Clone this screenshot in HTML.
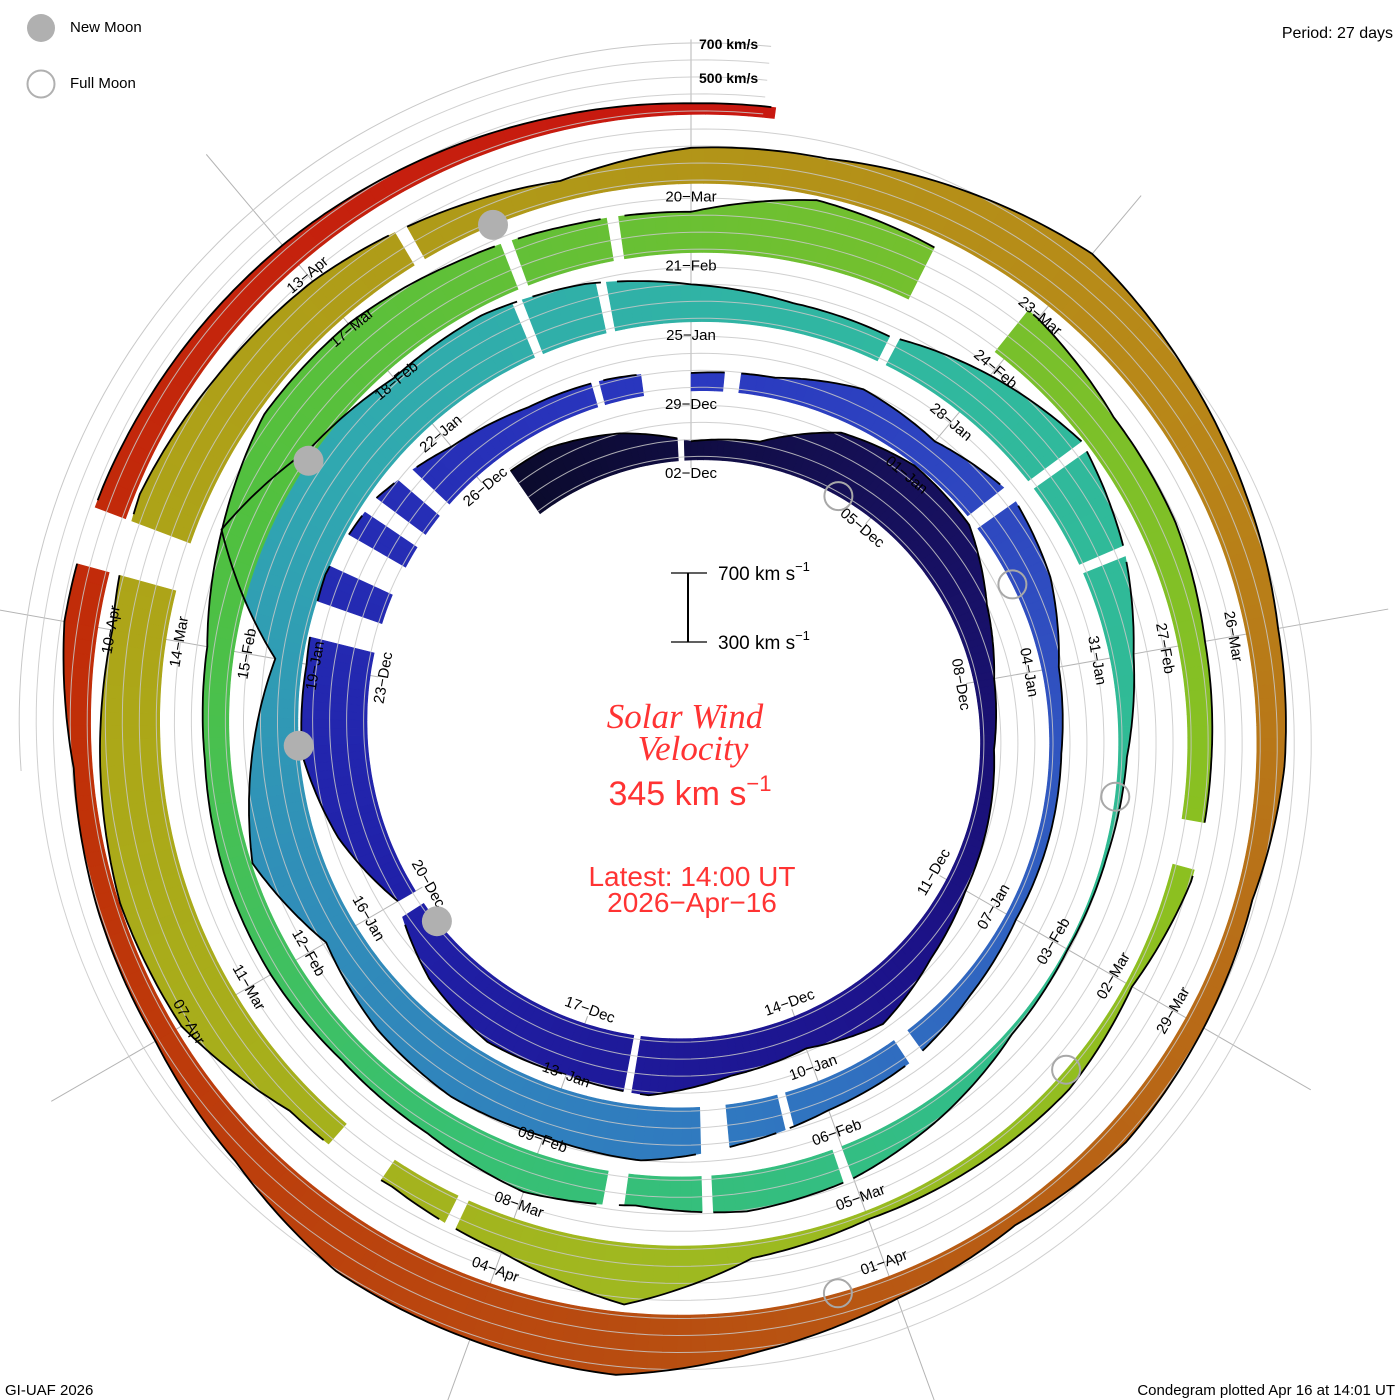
<!DOCTYPE html>
<html><head><meta charset="utf-8"><title>Solar Wind Velocity Condegram</title>
<style>
html,body{margin:0;padding:0;background:#fff;}
svg{display:block;}
text{font-family:"Liberation Sans",sans-serif;}
</style></head>
<body>
<svg id="chart" width="1400" height="1400" viewBox="0 0 1400 1400" xmlns="http://www.w3.org/2000/svg">
<rect x="0" y="0" width="1400" height="1400" fill="#fff"/>
<g id="radials"></g>
<g id="bars"></g>
<g id="grid"></g>
<g id="outline"></g>
<g id="labels"></g>
<g id="moons"></g>

<g>
<circle cx="41" cy="28" r="14" fill="#b0b0b0"/>
<text x="70" y="28" font-size="15" dominant-baseline="middle">New Moon</text>
<circle cx="41" cy="84" r="13.5" fill="none" stroke="#b0b0b0" stroke-width="2"/>
<text x="70" y="84" font-size="15" dominant-baseline="middle">Full Moon</text>
</g>
<text x="699" y="49" font-size="14" font-weight="bold">700 km/s</text>
<text x="699" y="83" font-size="14" font-weight="bold">500 km/s</text>
<text x="1393" y="38" font-size="16" text-anchor="end">Period: 27 days</text>
<text x="5" y="1395" font-size="15">GI-UAF 2026</text>
<text x="1395" y="1395" font-size="15" text-anchor="end">Condegram plotted Apr 16 at 14:01 UT</text>

<g>
<line x1="688" y1="573" x2="688" y2="642" stroke="#000" stroke-width="2"/>
<line x1="671" y1="573" x2="707" y2="573" stroke="#000" stroke-width="1.3"/>
<line x1="671" y1="642" x2="707" y2="642" stroke="#000" stroke-width="1.3"/>
<text x="718" y="580" font-size="19">700 km s<tspan dy="-9" font-size="13">−1</tspan></text>
<text x="718" y="649" font-size="19">300 km s<tspan dy="-9" font-size="13">−1</tspan></text>
</g>
<text x="685" y="728" font-size="35" font-style="italic" fill="#ff3333" text-anchor="middle" style="font-family:'Liberation Serif',serif">Solar Wind</text>
<text x="693" y="760" font-size="35" font-style="italic" fill="#ff3333" text-anchor="middle" style="font-family:'Liberation Serif',serif">Velocity</text>
<text x="690" y="805" font-size="34" fill="#ff3333" text-anchor="middle">345 km s<tspan dy="-14" font-size="22">−1</tspan></text>
<text x="692" y="886" font-size="28" fill="#ff3333" text-anchor="middle">Latest: 14:00 UT</text>
<text x="692" y="912" font-size="28" fill="#ff3333" text-anchor="middle">2026−Apr−16</text>
</svg>
<script>
// ---- data (day offset 0 = 2025-12-02 00:00 UT; one value per day from day -3) ----
const firstDay = -3;
const speeds = [
590,580,500,390,420,620,680,660,500,400,360,385,410,470,570,480,520,620,600,620,540,400,560,670,660,690,640,510,440,420,
385,400,500,460,560,500,380,350,350,345,380,440,460,520,600,580,600,560,480,680,560,440,950,720,630,640,590,
500,445,440,560,670,560,420,330,300,290,310,400,480,510,460,520,450,430,450,450,430,440,540,650,640,580,540,
520,660,620,590,500,490,440,420,410,320,370,350,330,380,640,490,420,450,650,680,640,600,660,600,560,480,400,
490,505,590,680,600,530,470,445,380,400,420,360,420,520,650,630,610,480,420,410,390,480,470,450,430,400,370,345
];
const dataStart = -2.6;
const dataEnd = 135.58;
const gaps = [[-0.2,-0.05],[14.15,14.3],[14.95,15.02],[17.75,18.0],[21.35,21.7],[22.15,22.5],[22.8,23.0],[23.3,23.55],[25.85,25.95],[26.4,27.0],[27.45,27.6],[30.9,31.15],[37.8,38.0],[39.45,39.55],[40.1,40.4],[52.35,52.45],[53.15,53.25],[56,56.08],[58,58.08],[59,59.1],[66,66.08],[67.3,67.38],[68.15,68.3],[79.35,79.5],[80.25,80.4],[83.0,83.9],[88.5,88.9],[96.4,96.5],[97.1,97.6],[102.4,102.8],[105.65,105.75],[129.4,129.8]];
const newMoons = [17.5, 47.1, 76.9, 106.4];
const fullMoons = [2.4, 31.9, 61.4, 90.9, 120.4];
const gridSpeeds = [300, 400, 500, 600];
const colorDays = [-3,3,10,18,27,33,40,46,50,56,63,70,76,82,89,95,101,107,112,116,122,128,135];
const colorHex = ['#0a0a2a','#16105a','#1c1288','#2020a8','#2a38c0','#3050c0','#3078c0','#3090b8','#30a8b0','#30b8a0','#30bc90','#38c070','#50c040','#70c030','#8cc020','#a0b820','#aca818','#b09818','#b88818','#b87018','#b84c10','#c03008','#c81810'];

// ---- geometry ----
const CX = 691, CY = 732, A = 272, B = 2.56, PXV = 0.17, V0 = 280;
function baseR(d){ return A + B*d; }
function speedR(d, v){ return baseR(d) + (v - V0)*PXV; }
function pt(d, r){ const t = d/27*2*Math.PI; return [CX + r*Math.sin(t), CY - r*Math.cos(t)]; }
function speedAt(d){
  const x = d - firstDay; const i = Math.max(0, Math.min(speeds.length-2, Math.floor(x)));
  const f = Math.max(0, Math.min(1, x - i));
  return speeds[i]*(1-f) + speeds[i+1]*f;
}
function inGap(d){ for (const g of gaps) if (d >= g[0] && d < g[1]) return true; return false; }
function hex2rgb(h){ return [parseInt(h.slice(1,3),16),parseInt(h.slice(3,5),16),parseInt(h.slice(5,7),16)]; }
function colorAt(d){
  let i = 0; while (i < colorDays.length-2 && d > colorDays[i+1]) i++;
  const f = Math.max(0, Math.min(1, (d - colorDays[i])/(colorDays[i+1]-colorDays[i])));
  const a = hex2rgb(colorHex[i]), b = hex2rgb(colorHex[i+1]);
  return 'rgb(' + a.map((v,k)=>Math.round(v+(b[k]-v)*f)).join(',') + ')';
}
const NS = 'http://www.w3.org/2000/svg';
function mk(tag, attrs, parent){ const e = document.createElementNS(NS, tag); for (const k in attrs) e.setAttribute(k, attrs[k]); parent.appendChild(e); return e; }
const f1 = p => p[0].toFixed(1) + ',' + p[1].toFixed(1);

// ---- radial gridlines every 3 days ----
const radG = document.getElementById('radials');
for (let k = 0; k < 9; k++) {
  const d0 = k*3;
  const p1 = pt(d0, baseR(d0) - 8), p2 = pt(d0, baseR(d0 + 27*5) + 75);
  const ln = mk('line', {x1:p1[0], y1:p1[1], x2:p2[0], y2:p2[1], stroke:'#b4b4b4', 'stroke-width':1}, radG);
  
  
}

// ---- bars ----
const barG = document.getElementById('bars');
const step = 0.1;
for (let d = dataStart; d < dataEnd - 1e-9; d += step) {
  const d2 = Math.min(d + step, dataEnd);
  const mid = (d + d2)/2;
  if (inGap(mid)) continue;
  const v1 = speedAt(d), v2 = speedAt(d2);
  const pts = [pt(d, baseR(d)), pt(d2, baseR(d2)), pt(d2, speedR(d2, v2)), pt(d, speedR(d, v1))];
  const c = colorAt(mid);
  const poly = mk('polygon', {points: pts.map(f1).join(' '), fill: c, stroke: c, 'stroke-width': 0.6}, barG);
  
  
}

// ---- outline of velocity profile (black) ----
const outG = document.getElementById('outline');
let seg = [];
function flush(){
  if (seg.length > 1) {
    const p = mk('polyline', {points: seg.map(f1).join(' '), fill:'none', stroke:'#000', 'stroke-width':1.8, 'stroke-linejoin':'round'}, outG);
    
    
  }
  seg = [];
}
for (let d = dataStart; d <= dataEnd + 1e-9; d += 0.05) {
  if (inGap(d)) { flush(); continue; }
  seg.push(pt(d, speedR(d, speedAt(d))));
}
flush();

// ---- spiral gridlines ----
const gridG = document.getElementById('grid');
gridSpeeds.forEach(v => {
  const pts = [];
  for (let d = dataStart; d <= dataEnd + 1e-9; d += 0.1) pts.push(pt(d, speedR(d, v)));
  const p = mk('polyline', {points: pts.map(f1).join(' '), fill:'none', stroke:'#c8c8c8', 'stroke-width':1, opacity:0.85}, gridG);
  
  
});
{
  const pts = [];
  for (let d = 128; d <= dataEnd + 1e-9; d += 0.1) pts.push(pt(d, speedR(d, 700)));
  const p = mk('polyline', {points: pts.map(f1).join(' '), fill:'none', stroke:'#c8c8c8', 'stroke-width':1}, gridG);
  
  
}

// ---- date labels ----
const labG = document.getElementById('labels');
const months = ['Jan','Feb','Mar','Apr','May','Jun','Jul','Aug','Sep','Oct','Nov','Dec'];
const origin = Date.UTC(2025, 11, 2);
for (let d = 0; d <= 132; d += 3) {
  const dt = new Date(origin + d*86400000);
  const s = String(dt.getUTCDate()).padStart(2,'0') + '−' + months[dt.getUTCMonth()];
  const p = pt(d, baseR(d) - 14);
  let th = (d % 27)/27*360;
  let rot = (th > 90 && th < 270) ? th - 180 : (th >= 270 ? th - 360 : th);
  const t = mk('text', {x:p[0].toFixed(1), y:p[1].toFixed(1), 'font-size':15, 'text-anchor':'middle', 'dominant-baseline':'middle', transform:'rotate(' + rot.toFixed(1) + ' ' + p[0].toFixed(1) + ' ' + p[1].toFixed(1) + ')'}, labG);
  t.textContent = s;
  
  
}

// ---- moons ----
const moonG = document.getElementById('moons');
newMoons.forEach(d => {
  const p = pt(d, baseR(d));
  const c = mk('circle', {cx:p[0].toFixed(1), cy:p[1].toFixed(1), r:15, fill:'#b0b0b0'}, moonG);
  
  
});
fullMoons.forEach(d => {
  const p = pt(d, baseR(d));
  const c = mk('circle', {cx:p[0].toFixed(1), cy:p[1].toFixed(1), r:14, fill:'none', stroke:'#a8a8a8', 'stroke-width':2}, moonG);
  
  
});
</script>
</body></html>
